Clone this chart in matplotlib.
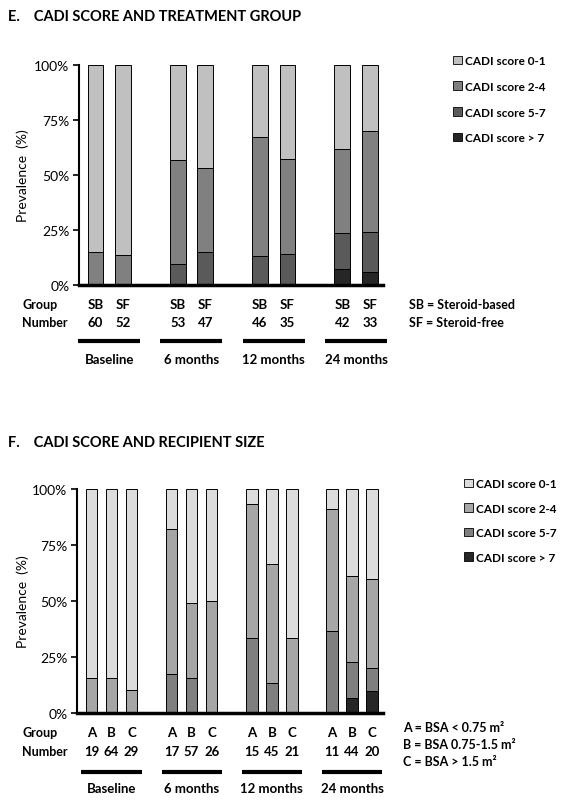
import matplotlib
matplotlib.use("Agg")
import matplotlib.pyplot as plt
from matplotlib.patches import Patch
from matplotlib.transforms import blended_transform_factory

plt.rcParams['font.family'] = ['Lato', 'DejaVu Sans']

# ---- data ----
periods = ['Baseline', '6 months', '12 months', '24 months']
score_labels = ['CADI score 0-1', 'CADI score 2-4', 'CADI score 5-7', 'CADI score > 7']

# panel E: treatment group
e_groups = ['SB', 'SF'] * 4
e_numbers = [60, 52, 53, 47, 46, 35, 42, 33]
e_gt7 = [0, 0, 0, 0, 0, 0, 7.1, 6.1]
e_5to7 = [0, 0, 9.4, 14.9, 13.0, 14.3, 16.7, 18.2]
e_2to4 = [15.0, 13.5, 47.2, 38.3, 54.4, 42.8, 38.1, 45.8]
e_key = ['SB = Steroid-based', 'SF = Steroid-free']

# panel F: recipient size
f_groups = ['A', 'B', 'C'] * 4
f_numbers = [19, 64, 29, 17, 57, 26, 15, 45, 21, 11, 44, 20]
f_gt7 = [0, 0, 0, 0, 0, 0, 0, 0, 0, 0, 6.8, 10.0]
f_5to7 = [0, 0, 0, 17.6, 15.8, 0, 33.3, 13.3, 0, 36.4, 15.9, 10.0]
f_2to4 = [15.8, 15.6, 10.3, 64.7, 33.3, 50.0, 60.0, 53.3, 33.3, 54.5, 38.6, 40.0]
f_key = ['A = BSA < 0.75 m²', 'B = BSA 0.75-1.5 m²', 'C = BSA > 1.5 m²']

e_colors = ['#c0c0c0', '#808080', '#5a5a5a', '#262626']
f_colors = ['#dcdcdc', '#a6a6a6', '#7f7f7f', '#262626']

W, H = 563, 804
fig = plt.figure(figsize=(W / 100, H / 100), dpi=100)


def fy(py):
    # pixel row -> figure fraction
    return 1 - py / H


def draw_panel(box, groups, numbers, gt7, s57, s24, colors, n_per, xlim,
               halfw, title, title_y, rows_y, leg_pos, leg_space, key, key_pos):
    ax = fig.add_axes(box)
    x = [p * (n_per + 1) + i for p in range(len(periods)) for i in range(n_per)]
    s01 = [100 - a - b - c for a, b, c in zip(gt7, s57, s24)]
    bottom = [0] * len(x)
    for seg, col in zip([gt7, s57, s24, s01], colors[::-1]):
        ax.bar(x, seg, bottom=bottom, width=0.58, color=col,
               edgecolor='black', linewidth=0.7)
        bottom = [b + s for b, s in zip(bottom, seg)]

    ax.set_ylim(0, 100)
    ax.set_xlim(*xlim)
    ax.set_yticks([0, 25, 50, 75, 100])
    ax.set_yticklabels(['0%', '25%', '50%', '75%', '100%'], fontsize=10)
    ax.set_xticks([])
    for s in ['top', 'right']:
        ax.spines[s].set_visible(False)
    ax.spines['left'].set_linewidth(1.5)
    ax.spines['bottom'].set_linewidth(2.5)
    ax.tick_params(axis='y', length=4, width=1.2, pad=3)

    fig.text(8 / W, fy(title_y), title, fontsize=10.5, fontweight='bold',
             va='center', ha='left')
    fig.text(23 / W, box[1] + box[3] / 2, 'Prevalence  (%)', rotation=90,
             fontsize=10, va='center', ha='center')

    tr = blended_transform_factory(ax.transData, fig.transFigure)
    gy, ny, ly, py = rows_y
    fig.text(22 / W, fy(gy), 'Group', fontsize=9, fontweight='bold', va='center')
    fig.text(22 / W, fy(ny), 'Number', fontsize=9, fontweight='bold', va='center')
    for xi, g, n in zip(x, groups, numbers):
        ax.text(xi, fy(gy), g, transform=tr, ha='center', va='center',
                fontsize=9.5, fontweight='bold')
        ax.text(xi, fy(ny), str(n), transform=tr, ha='center', va='center',
                fontsize=9.5, fontweight='bold')
    for p, name in enumerate(periods):
        c = p * (n_per + 1) + (n_per - 1) / 2
        ax.plot([c - halfw, c + halfw], [fy(ly), fy(ly)], color='black',
                lw=3, transform=tr, clip_on=False, solid_capstyle='butt')
        ax.text(c, fy(py), name, transform=tr, ha='center', va='center',
                fontsize=9.5, fontweight='bold')

    kx, ky, kstep = key_pos
    for i, t in enumerate(key):
        fig.text(kx / W, fy(ky + i * kstep), t, fontsize=9, fontweight='bold',
                 va='center', ha='left')

    handles = [Patch(facecolor=c, edgecolor='black', linewidth=0.6) for c in colors]
    fig.legend(handles, score_labels, loc='upper left',
               bbox_to_anchor=(leg_pos[0] / W, fy(leg_pos[1])),
               frameon=False, borderpad=0, borderaxespad=0,
               handlelength=0.75, handleheight=0.75,
               handletextpad=0.3, labelspacing=leg_space,
               prop={'size': 8.5, 'weight': 'bold'})
    return ax


draw_panel([79 / W, fy(286), (383 - 79) / W, (286 - 66) / H],
           e_groups, e_numbers, e_gt7, e_5to7, e_2to4, e_colors, 2,
           (-0.6, 10.48), 1.13,
           'E.    CADI SCORE AND TREATMENT GROUP', 17,
           (305, 323, 342, 360), (453, 56), 1.25, e_key, (409, 305, 18))

draw_panel([77 / W, fy(714), (383 - 77) / W, (714 - 490) / H],
           f_groups, f_numbers, f_gt7, f_5to7, f_2to4, f_colors, 3,
           (-0.72, 14.55), 1.5,
           'F.    CADI SCORE AND RECIPIENT SIZE', 443,
           (733, 752, 773, 789), (464, 479), 1.15, f_key, (403, 728, 17))

fig.savefig('out.png', dpi=100)
